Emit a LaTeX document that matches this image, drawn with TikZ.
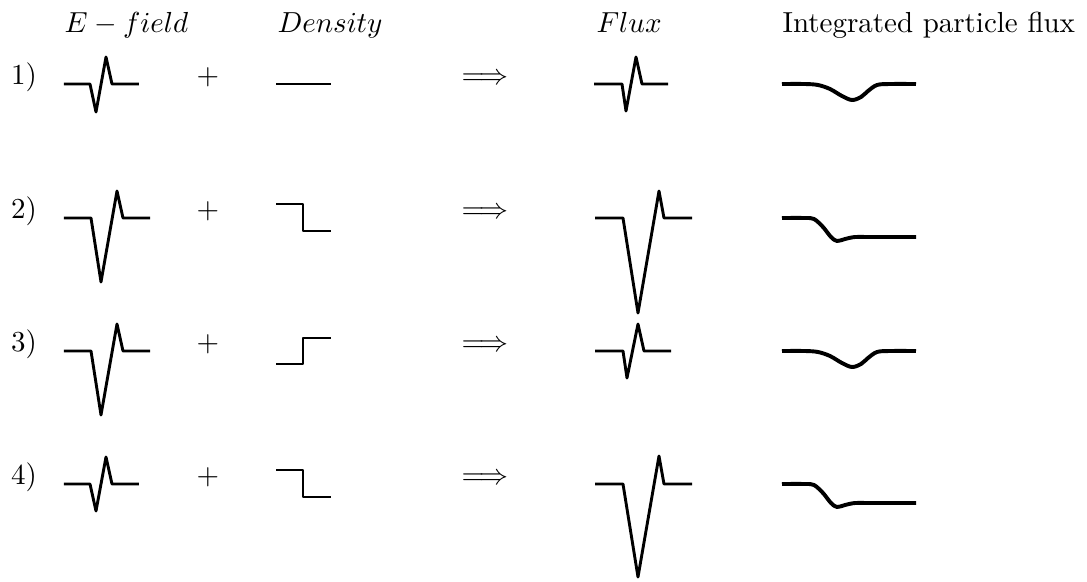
\documentclass[tikz,border=0pt]{standalone}
\begin{document}
\begin{tikzpicture}[x=0.345pt,y=-0.345pt,
  sig/.style={line width=1pt,line join=round},
  integ/.style={line width=1.35pt,line join=round},
  lbl/.style={inner sep=0pt,anchor=base},
  hdr/.style={inner sep=0pt,anchor=base west}]
\useasboundingbox (0,0) rectangle (1087,581);
% headers
\node[hdr] (hE) at (64,32) {$E-field$};
\node[hdr] (hD) at (277,32) {$Density$};
\node[hdr] (hF) at (596,32) {$Flux$};
\node[hdr] (hI) at (782,32) {Integrated particle flux};
% row labels, plus signs, arrows
\foreach \r/\y in {1/84,2/218,3/351,4/484}{
  \node[lbl] (n\r) at (24,\y) {\r)};
  \node[lbl] (p\r) at (208,\y) {$+$};
  \node[lbl] (a\r) at (485,\y) {$\Longrightarrow$};
}
% ---- Row 1
\begin{scope}[shift={(0,84)}]
  \draw[sig] (64,0)--(90,0)--(96,28)--(106,-27)--(112,0)--(139,0);
  \draw[sig] (276,0)--(331,0);
  \draw[sig] (594,0)--(622,0)--(626,27)--(636,-27)--(642,0)--(668,0);
  \draw[integ] plot[smooth,tension=0.55] coordinates
    {(782,0)(805,0)(818,1)(830,5)(842,12)(852,16)(861,13)(868,7)(877,1)(890,0)(916,0)};
\end{scope}
% ---- Row 2
\begin{scope}[shift={(0,218)}]
  \draw[sig] (64,0)--(91,0)--(101,64)--(117,-27)--(123,0)--(150,0);
  \draw[sig] (276,-14)--(303,-14)--(303,13)--(331,13);
  \draw[sig] (595,0)--(623,0)--(638,95)--(659,-27)--(664,0)--(692,0);
  \draw[integ] plot[smooth,tension=0.55] coordinates
    {(782,0)(805,0)(814,1)(823,9)(831,19)(837,23)(845,21)(855,19)(870,19)(916,19)};
\end{scope}
% ---- Row 3
\begin{scope}[shift={(0,351)}]
  \draw[sig] (64,0)--(91,0)--(101,64)--(117,-27)--(123,0)--(150,0);
  \draw[sig] (276,13)--(303,13)--(303,-13)--(331,-13);
  \draw[sig] (595,0)--(623,0)--(627,27)--(638,-27)--(644,0)--(671,0);
  \draw[integ] plot[smooth,tension=0.55] coordinates
    {(782,0)(805,0)(818,1)(830,5)(842,12)(852,16)(861,13)(868,7)(877,1)(890,0)(916,0)};
\end{scope}
% ---- Row 4
\begin{scope}[shift={(0,484)}]
  \draw[sig] (64,0)--(90,0)--(96,27)--(106,-27)--(112,0)--(139,0);
  \draw[sig] (276,-14)--(303,-14)--(303,13)--(331,13);
  \draw[sig] (595,0)--(623,0)--(638,93)--(659,-28)--(664,0)--(692,0);
  \draw[integ] plot[smooth,tension=0.55] coordinates
    {(782,0)(805,0)(814,1)(823,9)(831,19)(837,23)(845,21)(855,19)(870,19)(916,19)};
\end{scope}
\end{tikzpicture}
\end{document}
